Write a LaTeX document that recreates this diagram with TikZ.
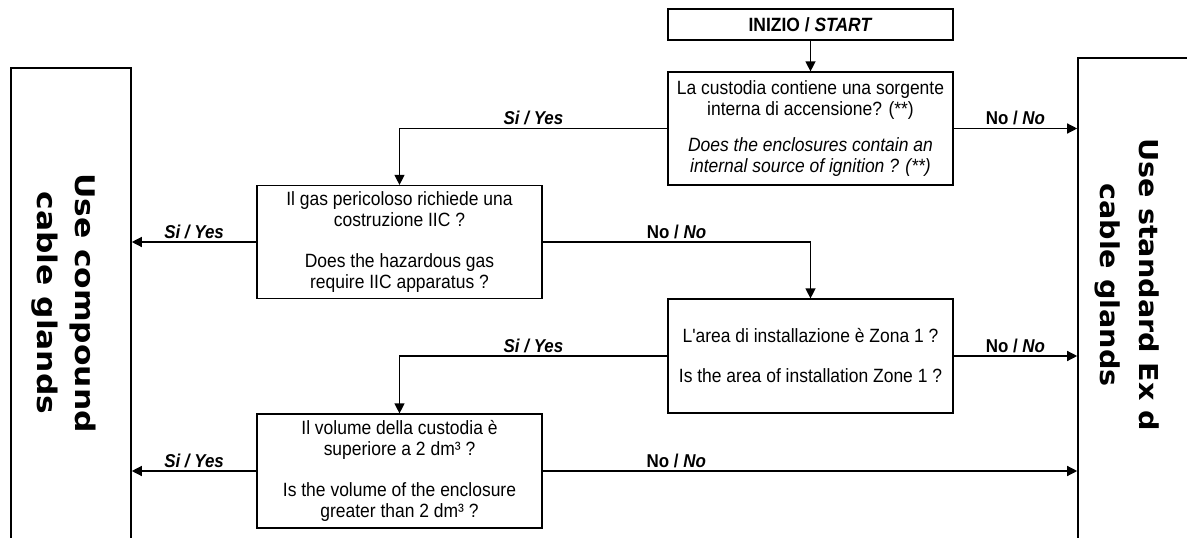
\documentclass[tikz,border=0pt]{standalone}
\usepackage{fontspec}
\setmainfont{Liberation Sans}[FakeStretch=0.91]
\newfontfamily\qfont{Liberation Sans}[FakeStretch=0.91]
\newfontfamily\bigfont{DejaVu Sans}
\usetikzlibrary{arrows.meta}
\begin{document}
\begin{tikzpicture}[x=1pt,y=-1pt,
  qbox/.style={draw, line width=1.2pt, minimum width=285pt, minimum height=113pt, align=center, inner sep=0pt, font=\qfont\fontsize{19.2}{21}\selectfont},
  startbox/.style={draw, line width=1.2pt, minimum width=285pt, minimum height=31pt, inner sep=0pt, font=\qfont\fontsize{19.2}{21}\selectfont\bfseries},
  endbox/.style={draw, line width=1.6pt, inner sep=0pt},
  conn/.style={line width=1.3pt, -{Triangle[length=10pt,width=10pt]}},
  lab/.style={font=\qfont\fontsize{18.6}{21}\selectfont\bfseries, inner sep=2.5pt},
  bigtxt/.style={align=center, rotate=-90, inner sep=0pt}
]
\useasboundingbox (0,0) rectangle (1187,538);
\clip (0,0) rectangle (1187,538);

% result boxes (run off the page)
\node[endbox, minimum width=120pt, minimum height=520pt] (L) at (71,328) {};
\node[endbox, minimum width=160pt, minimum height=520pt] (R) at (1158,318) {};

\begin{scope}[shift={(64,303)}]
  \node[bigtxt, xscale=1.16, font=\bigfont\bfseries\fontsize{27}{38}\selectfont] (Lt) at (0,0) {Use compound\\cable glands};
\end{scope}
\begin{scope}[shift={(1127,285)}]
  \node[bigtxt, xscale=1.1, font=\bigfont\bfseries\fontsize{26}{39}\selectfont] (Rt) at (0,0) {Use standard Ex d\\cable glands};
\end{scope}

% decision boxes
\node[startbox] (st) at (810.5,24.5) {INIZIO / \textit{START}};
\node[qbox] (q1) at (810.5,128.5) {La custodia contiene una sorgente\\interna di accensione? (**)\\[15pt]\textit{Does the enclosures contain an}\\\textit{internal source of ignition ? (**)}};
\node[qbox] (q2) at (399.5,242) {Il gas pericoloso richiede una\\costruzione IIC ?\\[20pt]Does the hazardous gas\\require IIC apparatus ?};
\node[qbox, minimum height=114pt] (q3) at (810.5,356) {L'area di installazione è Zona 1 ?\\[19pt]Is the area of installation Zone 1 ?};
\node[qbox, minimum height=114pt] (q4) at (399.5,471) {Il volume della custodia è\\superiore a 2 dm³ ?\\[20pt]Is the volume of the enclosure\\greater than 2 dm³ ?};

% connectors
\draw[conn] (st.south) -- (q1.north);
\draw[conn] (q1.west) -| node[lab, above, pos=0.25] (y1) {\textit{Si / Yes}} (q2.north);
\draw[conn] (q1.east) -- node[lab, above] (n1) {No / \textit{No}} (q1.east -| R.west);
\draw[conn] (q2.west) -- node[lab, above] (y2) {\textit{Si / Yes}} (q2.west -| L.east);
\draw[conn] (q2.east) -| node[lab, above, pos=0.25] (n2) {No / \textit{No}} (q3.north);
\draw[conn] (q3.west) -| node[lab, above, pos=0.25] (y3) {\textit{Si / Yes}} (q4.north);
\draw[conn] (q3.east) -- node[lab, above] (n3) {No / \textit{No}} (q3.east -| R.west);
\draw[conn] (q4.west) -- node[lab, above] (y4) {\textit{Si / Yes}} (q4.west -| L.east);
\draw[conn] (q4.east) -- node[lab, above, pos=0.25] (n4) {No / \textit{No}} (q4.east -| R.west);
\end{tikzpicture}
\end{document}
